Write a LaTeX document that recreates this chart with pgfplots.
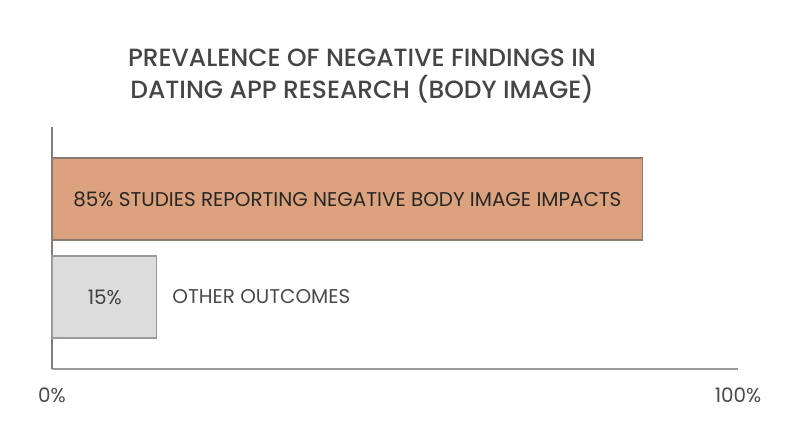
\documentclass[border=0pt]{standalone}
\usepackage{fontspec}
\setmainfont{Poppins}[BoldFont={Poppins Medium}]
\usepackage{pgfplots}
\pgfplotsset{compat=1.18}
\definecolor{barorange}{HTML}{DCA27E}
\definecolor{orangeedge}{HTML}{8C7B70}
\definecolor{bargray}{HTML}{DCDCDC}
\definecolor{grayedge}{HTML}{9A9A9A}
\definecolor{titlegray}{HTML}{454545}
\definecolor{labelgray}{HTML}{4A4A4A}
\begin{document}
\begin{tikzpicture}[x=1bp,y=1bp]
\path[use as bounding box] (0,0) rectangle (800,447);
\node[font=\fontsize{25}{32}\selectfont\bfseries, text=titlegray, align=center]
  at (362,371) {PREVALENCE OF NEGATIVE FINDINGS IN\\DATING APP RESEARCH (BODY IMAGE)};
\begin{axis}[
  at={(52bp,78bp)}, anchor=south west,
  scale only axis, width=686bp, height=242bp,
  xmin=0, xmax=98.7, ymin=0, ymax=242,
  axis x line=bottom, axis y line=left,
  axis line style={-},
  x axis line style={draw=grayedge, line width=1.2bp},
  y axis line style={draw=orangeedge, line width=1.2bp},
  xtick={0,98.7}, xticklabels={0\%,100\%},
  ytick=\empty, major tick length=0pt,
  xticklabel style={anchor=center, yshift=-26bp, font=\fontsize{20}{24}\selectfont, text=labelgray},
  clip=false,
]
\addplot[xbar, bar width=82, fill=barorange, draw=orangeedge, line width=1.2bp] coordinates {(85,170)};
\addplot[xbar, bar width=82, fill=bargray, draw=grayedge, line width=1.2bp] coordinates {(15,72)};
\node[font=\fontsize{20}{24}\selectfont, text=black!85] at (axis cs:42.5,170) {85\% STUDIES REPORTING NEGATIVE BODY IMAGE IMPACTS};
\node[font=\fontsize{20}{24}\selectfont, text=black!75] at (axis cs:7.6,72) {15\%};
\node[font=\fontsize{20}{24}\selectfont, text=labelgray, anchor=west, inner sep=0pt] at (axis cs:17.3,72) {OTHER OUTCOMES};
\end{axis}
\end{tikzpicture}
\end{document}
